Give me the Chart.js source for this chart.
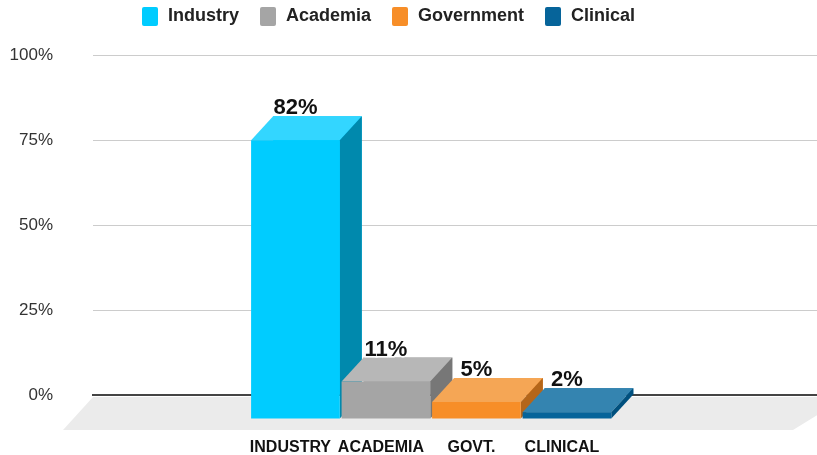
<!DOCTYPE html>
<html>
<head>
<meta charset="utf-8">
<script src="https://cdn.jsdelivr.net/npm/chart.js@4.4.1/dist/chart.umd.min.js"></script>
<style>
  body { margin: 0; background: #fff; font-family: "Liberation Sans", Arial, sans-serif; }
  #wrap { position: relative; width: 817px; height: 455px; }
  #legend { position: absolute; left: 142px; top: 7px; display: flex; }
  .item { display: flex; margin-right: 21px; }
  .box { width: 16px; height: 19px; border-radius: 2px; margin-right: 10px; }
  .label { font-weight: bold; font-size: 18px; line-height: 19px; color: #222; position: relative; top: -1px; }
</style>
</head>
<body>
<div id="wrap">
  <canvas id="chart"></canvas>
  <div id="legend"></div>
</div>
<script>
const categories = ['Industry', 'Academia', 'Government', 'Clinical'];
const tickLabels = ['INDUSTRY', 'ACADEMIA', 'GOVT.', 'CLINICAL'];
const values = [82, 11, 5, 2];
const yTicks = [0, 25, 50, 75, 100];

const frontColors = ['#00CCFF', '#A5A5A5', '#F78E28', '#06649A'];
const topColors = ['#33D6FF', '#B7B7B7', '#F5A655', '#3484B0'];
const sideColors = ['#0089AD', '#777777', '#B4661A', '#00507E'];

// depth of the fake 3d extrusion (front face sits down-left of the real bar)
const DX = 22;
const DY = 24;

const fontFamily = '"Liberation Sans", Arial, sans-serif';

function poly(ctx, pts, color) {
  ctx.beginPath();
  ctx.moveTo(pts[0][0], pts[0][1]);
  for (let i = 1; i < pts.length; i++) ctx.lineTo(pts[i][0], pts[i][1]);
  ctx.closePath();
  ctx.fillStyle = color;
  ctx.fill();
}

const bars3d = {
  id: 'bars3d',
  beforeDatasetsDraw(chart) {
    // grey floor under the bars
    const { ctx, chartArea } = chart;
    const b = chartArea.bottom;
    ctx.save();
    poly(ctx, [
      [chartArea.left, b + 2],
      [chartArea.right + 30, b + 2],
      [chartArea.right - 24, b + 35],
      [chartArea.left - 30, b + 35]
    ], '#EBEBEB');
    ctx.restore();
  },
  afterDatasetsDraw(chart) {
    const ctx = chart.ctx;
    const meta = chart.getDatasetMeta(0);
    ctx.save();
    meta.data.forEach((bar, i) => {
      const { x, y, base, width } = bar.getProps(['x', 'y', 'base', 'width'], true);
      const l = x - width / 2;
      const r = x + width / 2;
      const fl = l - DX, fr = r - DX, ft = y + DY, fb = base + DY;
      poly(ctx, [[l, y], [r, y], [fr, ft], [fl, ft]], topColors[i]);
      poly(ctx, [[r, y], [r, base], [fr, fb], [fr, ft]], sideColors[i]);
      ctx.fillStyle = frontColors[i];
      ctx.fillRect(fl, ft, width, fb - ft);

      const txt = values[i] + '%';
      ctx.font = 'bold 22px ' + fontFamily;
      ctx.textAlign = 'center';
      ctx.textBaseline = 'alphabetic';
      ctx.lineWidth = 3;
      ctx.strokeStyle = '#fff';
      ctx.strokeText(txt, x - DX, y - 2);
      ctx.fillStyle = '#111';
      ctx.fillText(txt, x - DX, y - 2);
    });
    ctx.restore();
  }
};

// html legend
const legendEl = document.getElementById('legend');
categories.forEach((c, i) => {
  const item = document.createElement('div');
  item.className = 'item';
  item.innerHTML = `<span class="box" style="background:${frontColors[i]}"></span><span class="label">${c}</span>`;
  legendEl.appendChild(item);
});

const ctx = document.getElementById('chart').getContext('2d');
const chart = new Chart(ctx, {
  type: 'bar',
  data: {
    datasets: [{
      label: 'Share',
      data: values.map((v, i) => ({ x: i, y: v })),
      backgroundColor: frontColors,
      barPercentage: 0.98,
      categoryPercentage: 1
    }]
  },
  options: {
    responsive: true,
    maintainAspectRatio: false,
    animation: false,
    layout: { padding: { top: 55, left: 10, right: 0, bottom: 0 } },
    plugins: {
      legend: { display: false },
      tooltip: { enabled: false }
    },
    scales: {
      x: {
        type: 'linear',
        offset: false,
        min: -2.48,
        max: 5.52,
        afterBuildTicks: (scale) => {
          scale.ticks = tickLabels.map((t, i) => ({ value: i }));
        },
        afterFit: (scale) => { scale.height = 60; },
        grid: { display: false, drawTicks: false },
        border: { display: true, color: '#444', width: 2 },
        ticks: {
          callback: (v) => tickLabels[v],
          autoSkip: false,
          maxRotation: 0,
          labelOffset: -27,
          padding: 43,
          color: '#111',
          font: { family: fontFamily, size: 16, weight: 'bold' }
        }
      },
      y: {
        min: 0,
        max: 100,
        afterBuildTicks: (scale) => {
          scale.ticks = yTicks.map(v => ({ value: v }));
        },
        afterFit: (scale) => { scale.width = 83; },
        grid: { color: '#CCCCCC', lineWidth: 1, drawTicks: false },
        border: { display: false },
        ticks: {
          callback: (v) => v + '%',
          padding: 40,
          color: '#333',
          font: { family: fontFamily, size: 17 }
        }
      }
    }
  },
  plugins: [bars3d]
});
</script>
</body>
</html>
